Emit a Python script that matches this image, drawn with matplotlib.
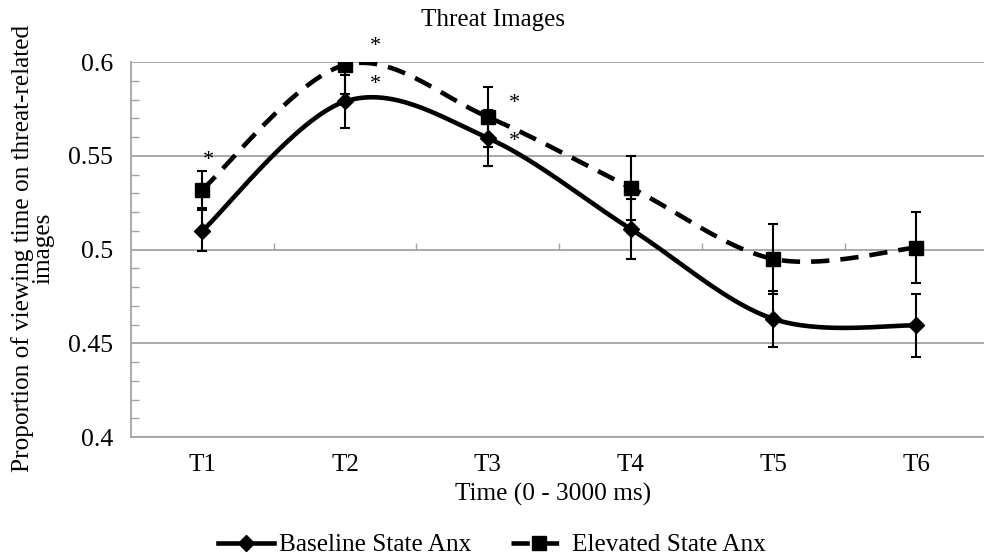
import matplotlib.pyplot as plt
import numpy as np
from matplotlib.ticker import MultipleLocator
from matplotlib.lines import Line2D

plt.rcParams['font.family'] = ['Liberation Serif', 'DejaVu Serif']

categories = ['T1', 'T2', 'T3', 'T4', 'T5', 'T6']
baseline = [0.510, 0.579, 0.5595, 0.511, 0.463, 0.4595]
baseline_err = [0.011, 0.014, 0.015, 0.016, 0.015, 0.017]
elevated = [0.532, 0.5985, 0.5707, 0.533, 0.495, 0.501]
elevated_err = [0.010, 0.0155, 0.016, 0.017, 0.0185, 0.019]

# significance stars (x in category units, y = glyph centre)
star_x = [0.04, 1.21, 1.21, 2.185, 2.185]
star_y = [0.550, 0.6107, 0.5904, 0.5803, 0.560]

grid_col = '#a3a3a3'
dash = (4.0, 2.4)


def smooth(xs, ys, n=60):
    # Catmull-Rom style smoothing like Excel's "smoothed line"
    pts = np.column_stack([xs, ys])
    pts = np.vstack([pts[0], pts, pts[-1]])
    out = []
    for i in range(len(xs) - 1):
        p0, p1, p2, p3 = pts[i], pts[i + 1], pts[i + 2], pts[i + 3]
        c1 = p1 + (p2 - p0) / 6
        c2 = p2 - (p3 - p1) / 6
        t = np.linspace(0, 1, n)[:, None]
        seg = ((1 - t) ** 3) * p1 + 3 * ((1 - t) ** 2) * t * c1 \
            + 3 * (1 - t) * t ** 2 * c2 + t ** 3 * p2
        out.append(seg if i == 0 else seg[1:])
    out = np.vstack(out)
    return out[:, 0], out[:, 1]


fig = plt.figure(figsize=(9.84, 5.6), dpi=100)
ax = fig.add_axes([0.1331, 0.2196, 0.8669, 0.6696])

x = np.arange(len(categories))

ax.errorbar(x, baseline, yerr=baseline_err, fmt='none', ecolor='black',
            elinewidth=1.5, capsize=3.6, capthick=1.5, zorder=3)
ax.errorbar(x, elevated, yerr=elevated_err, fmt='none', ecolor='black',
            elinewidth=1.5, capsize=3.6, capthick=1.5, zorder=3)

sx, sy = smooth(x, baseline)
ax.plot(sx, sy, color='black', lw=3.3, solid_capstyle='round', zorder=4)
ex, ey = smooth(x, elevated)
ax.plot(ex, ey, color='black', lw=3.3, dashes=dash, zorder=4)

ax.plot(x, baseline, linestyle='none', marker='D', ms=8, color='black', zorder=5)
ax.plot(x, elevated, linestyle='none', marker='s', ms=10.5, color='black', zorder=5)

for sxp, syp in zip(star_x, star_y):
    ax.text(sxp, syp - 0.0023, '*', fontsize=16, ha='center', va='center', zorder=6)

ax.set_xlim(-0.5, 5.476)
ax.set_ylim(0.4, 0.6)
ax.set_yticks([0.4, 0.45, 0.5, 0.55, 0.6])
ax.set_yticklabels(['0.4', '0.45', '0.5', '0.55', '0.6'])
ax.yaxis.set_minor_locator(MultipleLocator(0.01))
ax.set_xticks(x)
ax.set_xticklabels(categories)

ax.grid(axis='y', which='major', color=grid_col, lw=1.3, zorder=0)
ax.set_axisbelow(True)
ax.vlines(x[:-1] + 0.5, 0.5, 0.5035, color=grid_col, lw=1, zorder=1)

for s in ['top', 'right']:
    ax.spines[s].set_visible(False)
for s in ['left', 'bottom']:
    ax.spines[s].set_color(grid_col)
    ax.spines[s].set_linewidth(1.3)

ax.tick_params(axis='y', which='major', length=0, pad=13, labelsize=18.5)
ax.tick_params(axis='y', which='minor', direction='in', length=6,
               color=grid_col, width=1)
ax.tick_params(axis='x', length=0, pad=12, labelsize=18)

fig.text(493 / 984, 1 - 20 / 560, 'Threat Images', fontsize=18,
         ha='center', va='center')
fig.text(553 / 984, 1 - 494 / 560, 'Time (0 - 3000 ms)', fontsize=18.2,
         ha='center', va='center')
fig.text(33 / 984, 1 - 248 / 560,
         'Proportion of viewing time on threat-related\nimages',
         fontsize=18.2, rotation=90, ha='center', va='center',
         multialignment='center', linespacing=0.92)

handles = [
    Line2D([], [], color='black', lw=3.3, marker='D', ms=8),
    Line2D([], [], color='black', lw=3.3, dashes=dash, marker='s', ms=10.5),
]
fig.legend(handles, ['Baseline State Anx', 'Elevated State Anx'],
           loc='center', bbox_to_anchor=(492 / 984, 1 - 545 / 560), ncol=2,
           frameon=False, fontsize=18.2, handlelength=2.2, columnspacing=1.6,
           handletextpad=0.2, borderaxespad=0)

fig.savefig('out.png', dpi=100)
